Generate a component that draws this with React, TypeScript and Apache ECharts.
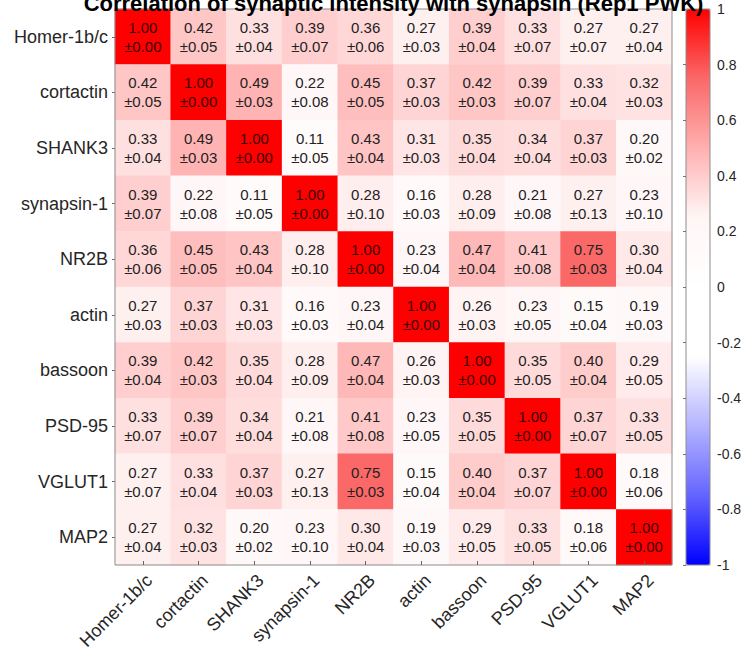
import React, { useEffect, useRef } from "react";
import * as echarts from "echarts";

const TITLE = "Correlation of synaptic intensity with synapsin (Rep1 PWK)";

const categories = [
  "Homer-1b/c",
  "cortactin",
  "SHANK3",
  "synapsin-1",
  "NR2B",
  "actin",
  "bassoon",
  "PSD-95",
  "VGLUT1",
  "MAP2",
];

const corr = [
  [1.0, 0.42, 0.33, 0.39, 0.36, 0.27, 0.39, 0.33, 0.27, 0.27],
  [0.42, 1.0, 0.49, 0.22, 0.45, 0.37, 0.42, 0.39, 0.33, 0.32],
  [0.33, 0.49, 1.0, 0.11, 0.43, 0.31, 0.35, 0.34, 0.37, 0.2],
  [0.39, 0.22, 0.11, 1.0, 0.28, 0.16, 0.28, 0.21, 0.27, 0.23],
  [0.36, 0.45, 0.43, 0.28, 1.0, 0.23, 0.47, 0.41, 0.75, 0.3],
  [0.27, 0.37, 0.31, 0.16, 0.23, 1.0, 0.26, 0.23, 0.15, 0.19],
  [0.39, 0.42, 0.35, 0.28, 0.47, 0.26, 1.0, 0.35, 0.4, 0.29],
  [0.33, 0.39, 0.34, 0.21, 0.41, 0.23, 0.35, 1.0, 0.37, 0.33],
  [0.27, 0.33, 0.37, 0.27, 0.75, 0.15, 0.4, 0.37, 1.0, 0.18],
  [0.27, 0.32, 0.2, 0.23, 0.3, 0.19, 0.29, 0.33, 0.18, 1.0],
];

const sem = [
  [0.0, 0.05, 0.04, 0.07, 0.06, 0.03, 0.04, 0.07, 0.07, 0.04],
  [0.05, 0.0, 0.03, 0.08, 0.05, 0.03, 0.03, 0.07, 0.04, 0.03],
  [0.04, 0.03, 0.0, 0.05, 0.04, 0.03, 0.04, 0.04, 0.03, 0.02],
  [0.07, 0.08, 0.05, 0.0, 0.1, 0.03, 0.09, 0.08, 0.13, 0.1],
  [0.06, 0.05, 0.04, 0.1, 0.0, 0.04, 0.04, 0.08, 0.03, 0.04],
  [0.03, 0.03, 0.03, 0.03, 0.04, 0.0, 0.03, 0.05, 0.04, 0.03],
  [0.04, 0.03, 0.04, 0.09, 0.04, 0.03, 0.0, 0.05, 0.04, 0.05],
  [0.07, 0.07, 0.04, 0.08, 0.08, 0.05, 0.05, 0.0, 0.07, 0.05],
  [0.07, 0.04, 0.03, 0.13, 0.03, 0.04, 0.04, 0.07, 0.0, 0.06],
  [0.04, 0.03, 0.02, 0.1, 0.04, 0.03, 0.05, 0.05, 0.06, 0.0],
];

// colormap stops at -1, -0.75, -0.5, -0.25, 0, 0.25, 0.5, 0.75, 1
const cmap = [
  "#0000ff",
  "#6464ff",
  "#b4b4ff",
  "#ffffff",
  "#ffffff",
  "#fff6f6",
  "#ffb0b0",
  "#fb6868",
  "#ff0000",
];

const colorbarTicks = { min: -1, max: 1, interval: 0.2 };

const FONT = "Liberation Sans, Arial, Helvetica, sans-serif";

export default function App() {
  const ref = useRef<HTMLDivElement>(null);
  useEffect(() => {
    if (!ref.current) return;
    const chart = echarts.init(ref.current, null, { renderer: "svg" });
    const data: any[] = [];
    corr.forEach((row, yi) => {
      row.forEach((v, xi) => {
        data.push({
          value: [xi, yi, v, sem[yi][xi]],
          label: { color: xi === yi ? "#3a0000" : "#222222" },
        });
      });
    });
    const plotLeft = 115;
    const plotTop = 9;
    const plotW = 557;
    const plotH = 556;
    chart.setOption({
      animation: false,
      backgroundColor: "#ffffff",
      graphic: [
        {
          type: "text",
          x: plotLeft + plotW / 2,
          y: 14,
          style: {
            text: TITLE,
            font: `bold 22px ${FONT}`,
            fill: "#000000",
            textAlign: "center",
            textVerticalAlign: "bottom",
          },
          z: 100,
        },
      ],
      grid: [
        {
          left: plotLeft,
          top: plotTop,
          width: plotW,
          height: plotH,
          show: true,
          borderColor: "#8c8c8c",
          borderWidth: 1,
          backgroundColor: "transparent",
          z: 5,
        },
        {
          left: 686,
          top: plotTop,
          width: 24,
          height: plotH,
          show: true,
          borderColor: "#8c8c8c",
          borderWidth: 1,
          backgroundColor: "transparent",
          z: 10,
        },
      ],
      xAxis: [
        {
          type: "category",
          gridIndex: 0,
          data: categories,
          position: "bottom",
          axisLine: { show: false },
          axisTick: {
            show: true,
            inside: true,
            length: 4,
            alignWithLabel: true,
            lineStyle: { color: "#666666" },
          },
          axisLabel: {
            rotate: 45,
            fontSize: 18,
            fontFamily: FONT,
            color: "#262626",
            margin: 6,
            verticalAlign: "top",
            interval: 0,
          },
          splitLine: { show: false },
          z: 6,
        },
        {
          type: "value",
          gridIndex: 1,
          show: false,
        },
      ],
      yAxis: [
        {
          type: "category",
          gridIndex: 0,
          data: categories,
          inverse: true,
          axisLine: { show: false },
          axisTick: {
            show: true,
            inside: false,
            length: 3,
            alignWithLabel: true,
            lineStyle: { color: "#666666" },
          },
          axisLabel: {
            fontSize: 18,
            fontFamily: FONT,
            color: "#262626",
            margin: 7,
            interval: 0,
          },
          splitLine: { show: false },
        },
        {
          type: "value",
          gridIndex: 1,
          position: "right",
          min: colorbarTicks.min,
          max: colorbarTicks.max,
          interval: colorbarTicks.interval,
          axisLine: { show: false },
          axisTick: {
            show: true,
            inside: true,
            length: 3,
            lineStyle: { color: "#777777" },
          },
          axisLabel: {
            fontSize: 14,
            fontFamily: FONT,
            color: "#262626",
            margin: 7,
            formatter: (v: number) => String(Math.round(v * 10) / 10),
          },
          splitLine: { show: false },
          z: 12,
        },
      ],
      visualMap: {
        type: "continuous",
        min: -1,
        max: 1,
        dimension: 2,
        seriesIndex: 0,
        show: true,
        calculable: false,
        hoverLink: false,
        left: 686,
        top: plotTop,
        itemWidth: 24,
        itemHeight: plotH,
        padding: 0,
        orient: "vertical",
        inRange: { color: cmap },
        textStyle: { color: "transparent" },
      },
      series: [
        {
          type: "heatmap",
          xAxisIndex: 0,
          yAxisIndex: 0,
          data,
          label: {
            show: true,
            fontSize: 15,
            fontFamily: FONT,
            lineHeight: 19,
            formatter: (p: any) =>
              `${p.value[2].toFixed(2)}\n±${p.value[3].toFixed(2)}`,
          },
          itemStyle: { borderWidth: 0 },
          emphasis: { disabled: true },
        },
      ],
    });
    return () => chart.dispose();
  }, []);
  return (
    <div
      ref={ref}
      style={{
        position: "absolute",
        left: 0,
        top: 0,
        width: 746,
        height: 656,
        background: "#fff",
      }}
    />
  );
}
